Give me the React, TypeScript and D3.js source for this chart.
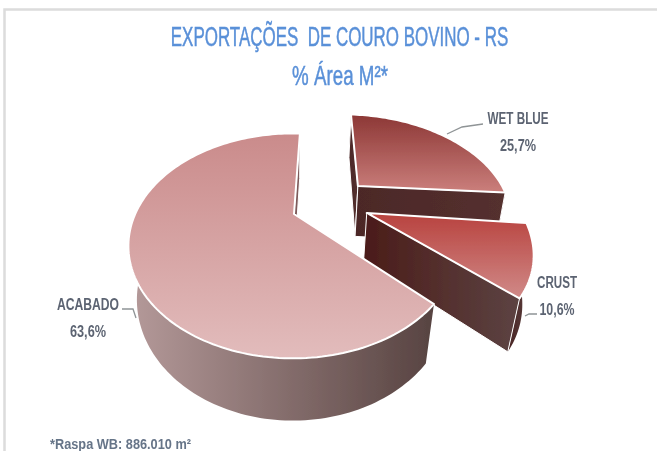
import React from 'react';
import * as d3 from 'd3';

const categories = ['WET BLUE', 'CRUST', 'ACABADO'];
const shares = [25.7, 10.6, 63.6];
const titleLines = ['EXPORTAÇÕES  DE COURO BOVINO - RS', '% Área M²*'];
const footnote = '*Raspa WB: 886.010 m²';

const width = 657;
const height = 451;

// perspective of the pie: apex of the unexploded slice, radii, foreshortening
const cx = 294;
const cy = 214;
const radiusX = 159.6;
const radiusY = 104.5;
const persp = 0.274;
const depthY = 55.5;
const depthPersp = 0.05;
const startDeg = 3;

// how far each slice is pulled out, its rim size and wall height
const slices = [
  { du: 0.432, dv: -0.289, r: 0.975, rimDu: 0, rimDv: -0.025, depth: 1, radials: [0, 1], top: ['#8c3735', '#cb7f7c'], wall: ['#4c2827', '#54302f'], outer: ['#3f1d1c', '#54302f'] },
  { du: 0.457, dv: -0.01, r: 0.97, rimDu: 0, rimDv: 0, depth: 0.9, radials: [1], top: ['#b8423e', '#d08a88'], wall: ['#4b1c19', '#5c4342'], outer: ['#4a2524', '#5c4342'] },
  { du: 0, dv: 0, r: 0.99, rimDu: -0.005, rimDv: 0.012, depth: 1, radials: [1], top: ['#ca8b8b', '#e2bcbc'], wall: ['#7d5a5a', '#7d5a5a'], outer: ['#b59a9a', '#574341'] },
];

const pie = d3.pie<number>().sort(null).value((d) => d)
  .startAngle((startDeg * Math.PI) / 180)
  .endAngle(((startDeg + 360) * Math.PI) / 180);
const arcs = pie(shares);

function project(u: number, v: number, z: number): [number, number] {
  const s = 1 / (1 - persp * v + depthPersp * z);
  return [cx + u * radiusX * s, cy + (v * radiusY + depthY * z) * s];
}

const line = d3.line();

function rimPoints(i: number, a0: number, a1: number, z: number) {
  const sl = slices[i];
  const n = Math.max(2, Math.ceil(Math.abs(a1 - a0) * 40));
  return d3.range(n + 1).map((k) => {
    const a = a0 + ((a1 - a0) * k) / n;
    return project(sl.du + sl.rimDu + sl.r * Math.sin(a), sl.dv + sl.rimDv - sl.r * Math.cos(a), z * sl.depth);
  });
}

function apex(i: number, z: number) {
  const sl = slices[i];
  return project(sl.du, sl.dv, z * sl.depth);
}

function Slice({ i }: { i: number }) {
  const { startAngle: a0, endAngle: a1 } = arcs[i];
  const top = line([apex(i, 0), ...rimPoints(i, a0, a1, 0)]) + 'Z';
  const outer = line([...rimPoints(i, a0, a1, 0), ...rimPoints(i, a0, a1, 1).reverse()]) + 'Z';
  const radial = (a: number) =>
    line([apex(i, 0), rimPoints(i, a, a, 0)[0], rimPoints(i, a, a, 1)[0], apex(i, 1)]) + 'Z';
  return (
    <g>
      <path d={outer} fill={`url(#outer${i})`} />
      {slices[i].radials.map((side) => (
        <path key={side} d={radial(side === 0 ? a0 : a1)} fill={`url(#wall${i})`} stroke="#fff" strokeWidth={1} />
      ))}
      <path d={top} fill={`url(#top${i})`} stroke="#fff" strokeWidth={2} strokeLinejoin="round" />
    </g>
  );
}

const labelText = (v: number) => `${v.toFixed(1).replace('.', ',')}%`;

const labelFont = '"Liberation Sans", sans-serif';
const labelSpots = [
  { x: 518, y1: 124, w1: 61, y2: 151, w2: 36 },
  { x: 557, y1: 288, w1: 40, y2: 315, w2: 35 },
  { x: 88, y1: 310, w1: 62, y2: 337, w2: 36 },
];
const leaders = [
  [[447, 134], [462, 127], [483, 124]],
  [[525, 316], [529, 314], [537, 314]],
  [[122, 309], [133, 309], [136, 318]],
] as [number, number][][];

export default function App() {
  return (
    <svg width={width} height={height} style={{ position: 'absolute', left: 0, top: 0 }}>
      <defs>
        <filter id="soft" x="-5%" y="-5%" width="110%" height="110%">
          <feGaussianBlur stdDeviation="0.7" />
        </filter>
        {slices.map((s, i) => (
          <React.Fragment key={i}>
            <linearGradient id={`top${i}`} x1="0" y1="0" x2="0" y2="1">
              <stop offset="0" stopColor={s.top[0]} />
              <stop offset="1" stopColor={s.top[1]} />
            </linearGradient>
            <linearGradient id={`wall${i}`} x1="0" y1="0" x2="1" y2="0">
              <stop offset="0" stopColor={s.wall[0]} />
              <stop offset="1" stopColor={s.wall[1]} />
            </linearGradient>
            <linearGradient id={`outer${i}`} x1="0" y1="0" x2="1" y2="0">
              <stop offset="0" stopColor={s.outer[0]} />
              <stop offset="1" stopColor={s.outer[1]} />
            </linearGradient>
          </React.Fragment>
        ))}
      </defs>
      <rect width={width} height={height} fill="#fff" />
      <g filter="url(#soft)">
        <path d={`M4.5,${height}V9.5H${width}`} fill="none" stroke="#dcdcdc" strokeWidth={2.5} />
        <g fill="#5a90d8" stroke="#5a90d8" strokeWidth={0.5} fontFamily={labelFont} fontSize={27} textAnchor="middle">
          <text transform="translate(339.5,46) scale(0.628,1)" style={{ whiteSpace: 'pre' }}>
            {titleLines[0]}
          </text>
          <text transform="translate(340,85) scale(0.695,1)">
            {titleLines[1]}
          </text>
        </g>
        {[0, 1, 2].map((i) => (
          <Slice key={i} i={i} />
        ))}
        {leaders.map((pts, i) => (
          <path key={i} d={line(pts) ?? ''} fill="none" stroke="#8f9496" strokeWidth={1.3} />
        ))}
        <g fill="#5c6472" fontFamily={labelFont} fontWeight="bold" fontSize={16} textAnchor="middle">
          {categories.map((c, i) => (
            <React.Fragment key={c}>
              <text x={labelSpots[i].x} y={labelSpots[i].y1} textLength={labelSpots[i].w1} lengthAdjust="spacingAndGlyphs">{c}</text>
              <text x={labelSpots[i].x} y={labelSpots[i].y2} textLength={labelSpots[i].w2} lengthAdjust="spacingAndGlyphs">{labelText(shares[i])}</text>
            </React.Fragment>
          ))}
        </g>
        <text x={50} y={449} fill="#667488" fontFamily={labelFont} fontWeight="bold" fontSize={14} textLength={141} lengthAdjust="spacingAndGlyphs">
          {footnote}
        </text>
      </g>
    </svg>
  );
}
